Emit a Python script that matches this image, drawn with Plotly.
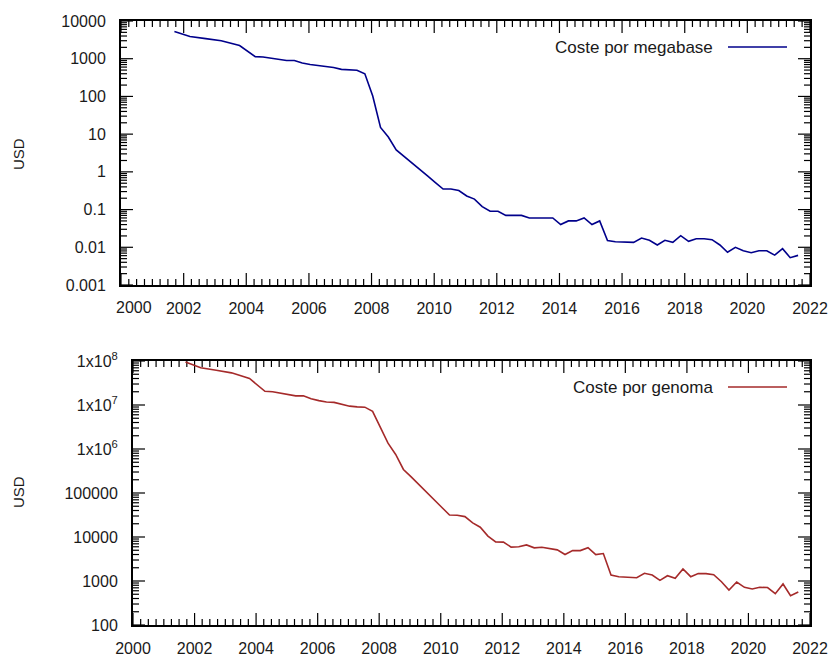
import pandas as pd
import plotly.graph_objects as go

# Sampling dates (quarterly records)
dates = [
    "2001-09-15", "2002-03-15", "2002-09-15", "2003-03-15", "2003-10-15",
    "2004-01-15", "2004-04-15", "2004-07-15", "2004-10-15",
    "2005-01-15", "2005-04-15", "2005-07-15", "2005-10-15",
    "2006-01-15", "2006-04-15", "2006-07-15", "2006-10-15",
    "2007-01-15", "2007-04-15", "2007-07-15", "2007-10-15",
    "2008-01-15", "2008-04-15", "2008-07-15", "2008-10-15",
    "2009-01-15", "2009-04-15", "2009-07-15", "2009-10-15",
    "2010-01-15", "2010-04-15", "2010-07-15", "2010-10-15",
    "2011-01-15", "2011-04-15", "2011-07-15", "2011-10-15",
    "2012-01-15", "2012-04-15", "2012-07-15", "2012-10-15",
    "2013-01-15", "2013-04-15", "2013-07-15", "2013-10-15",
    "2014-01-15", "2014-04-15", "2014-07-15", "2014-10-15",
    "2015-01-15", "2015-04-15", "2015-07-15", "2015-10-15",
    "2016-05-15", "2016-08-15", "2016-11-15",
    "2017-02-15", "2017-05-15", "2017-08-15", "2017-11-15",
    "2018-02-15", "2018-05-15", "2018-08-15", "2018-11-15",
    "2019-02-15", "2019-05-15", "2019-08-15", "2019-11-15",
    "2020-02-15", "2020-05-15", "2020-08-15", "2020-11-15",
    "2021-02-15", "2021-05-15", "2021-08-15",
]

# Cost per megabase (USD)
cost_per_mb = [
    5292.39, 3898.64, 3413.80, 2986.20, 2230.98,
    1598.91, 1135.70, 1107.46, 1028.85,
    974.16, 897.76, 898.90, 766.73,
    699.20, 651.81, 636.41, 581.92,
    522.71, 502.61, 495.96, 397.09,
    102.13, 15.03, 8.36, 3.81,
    2.59, 1.72, 1.20, 0.78,
    0.52, 0.35, 0.35, 0.32,
    0.23, 0.19, 0.12, 0.09,
    0.09, 0.07, 0.07, 0.07,
    0.06, 0.06, 0.06, 0.06,
    0.04, 0.05, 0.05, 0.06,
    0.04, 0.05, 0.015, 0.014,
    0.0135, 0.0176, 0.0153,
    0.0115, 0.0153, 0.0135, 0.0203,
    0.0144, 0.0169, 0.0169, 0.0159,
    0.0115, 0.0074, 0.0100, 0.0081,
    0.0072, 0.0081, 0.0081, 0.0062,
    0.0092, 0.0053, 0.0061,
]

# Cost per genome (USD)
cost_per_genome = [
    95263072, 70175437, 61448422, 53751684, 40157554,
    28780376, 20442576, 19934346, 18519312,
    17534970, 16159699, 16180224, 13801124,
    12585659, 11732535, 11455315, 10474556,
    9408739, 9047003, 8927342, 7147571,
    3063820, 1352982, 752080, 342502,
    232735, 154714, 108065, 70333,
    46774, 31512, 31125, 29092,
    20963, 16712, 10497, 7743,
    7666, 5901, 5985, 6618,
    5671, 5826, 5550, 5096,
    4008, 4920, 4905, 5731,
    3970, 4211, 1363, 1245,
    1190, 1496, 1368,
    1036, 1318, 1151, 1875,
    1253, 1472, 1472, 1390,
    964, 624, 949, 719,
    658, 719, 710, 514,
    855, 463, 562,
]

year_ticks = [str(y) for y in range(2000, 2023, 2)]
year_vals = [f"{y}-01-01" for y in range(2000, 2023, 2)]

mb_tickvals = [0.001, 0.01, 0.1, 1, 10, 100, 1000, 10000]
mb_ticktext = ["0.001", "0.01", "0.1", "1", "10", "100", "1000", "10000"]
gen_tickvals = [100, 1000, 10000, 100000, 1e6, 1e7, 1e8]
gen_ticktext = ["100", "1000", "10000", "100000",
                "1x10<sup>6</sup>", "1x10<sup>7</sup>", "1x10<sup>8</sup>"]

W, H = 829, 656
BLUE = "#00008b"
RED = "#a52a2a"
FONT = "Liberation Sans, Arial, sans-serif"
TXT = "#1a1a1a"
MAJOR_LEN, MINOR_LEN = 12, 6
X_START, X_END = "2000-01-01", "2022-01-01"

# panel frames in pixels (left, right, top, bottom)
TOP_BOX = (121, 810, 21, 285)
BOT_BOX = (133, 810, 361, 625)


def px(x):
    return x / W


def py(y):
    return 1 - y / H


# minor tick positions: quarters on the time axis, 2..9 per decade on log axes
quarter_vals = [f"{y}-{m:02d}-01" for y in range(2000, 2022) for m in (1, 4, 7, 10)
                if not (m == 1 and y % 2 == 0)]


def log_minors(lo, hi):
    return [k * 10.0 ** d for d in range(lo, hi) for k in range(2, 10)]


def fmt(ts):
    return ts.strftime("%Y-%m-%d %H:%M")


def frame_ticks(box, ylog_range, ymajor, yminor):
    """Inward tick marks on all four sides of a panel, in axis units."""
    left, right, top, bottom = box
    t0, t1 = pd.Timestamp(X_START), pd.Timestamp(X_END)
    days_per_px = (t1 - t0).days / (right - left)
    dec_per_px = (ylog_range[1] - ylog_range[0]) / (bottom - top)
    y_lo, y_hi = 10.0 ** ylog_range[0], 10.0 ** ylog_range[1]
    xs, ys = [], []
    for vals, length in ((year_vals, MAJOR_LEN), (quarter_vals, MINOR_LEN)):
        f = 10.0 ** (dec_per_px * length)
        for v in vals:
            xs += [v, v, None, v, v, None]
            ys += [y_lo, y_lo * f, None, y_hi, y_hi / f, None]
    for vals, length in ((ymajor, MAJOR_LEN), (yminor, MINOR_LEN)):
        dt = pd.Timedelta(days=days_per_px * length)
        for v in vals:
            xs += [fmt(t0), fmt(t0 + dt), None, fmt(t1), fmt(t1 - dt), None]
            ys += [v, v, None, v, v, None]
    return xs, ys


fig = go.Figure()

tx, ty = frame_ticks(TOP_BOX, (-3, 4), mb_tickvals, log_minors(-3, 4))
fig.add_trace(go.Scatter(x=tx, y=ty, mode="lines", line=dict(color="black", width=1.2),
                         xaxis="x", yaxis="y", showlegend=False, hoverinfo="skip",
                         connectgaps=False))
bx, by = frame_ticks(BOT_BOX, (2, 8), gen_tickvals, log_minors(2, 8))
fig.add_trace(go.Scatter(x=bx, y=by, mode="lines", line=dict(color="black", width=1.2),
                         xaxis="x2", yaxis="y2", showlegend=False, hoverinfo="skip",
                         connectgaps=False))

fig.add_trace(go.Scatter(x=dates, y=cost_per_mb, mode="lines",
                         line=dict(color=BLUE, width=1.6),
                         xaxis="x", yaxis="y", showlegend=False,
                         name="Coste por megabase"))
fig.add_trace(go.Scatter(x=dates, y=cost_per_genome, mode="lines",
                         line=dict(color=RED, width=1.6),
                         xaxis="x2", yaxis="y2", showlegend=False,
                         name="Coste por genoma"))

common_x = dict(
    type="date", range=[X_START, X_END], autorange=False,
    tickmode="array", tickvals=year_vals, ticks="",
    showline=True, linewidth=2, linecolor="black", mirror=True,
    showgrid=False, zeroline=False,
    tickfont=dict(family=FONT, size=16, color=TXT),
    ticklabelstandoff=8,
)
common_y = dict(
    type="log", tickmode="array", ticks="", autorange=False,
    showline=True, linewidth=2, linecolor="black", mirror=True,
    showgrid=False, zeroline=False,
    tickfont=dict(family=FONT, size=16, color=TXT),
    ticklabelstandoff=10,
)

top_text = [""] + year_ticks[1:]

fig.update_layout(
    width=W, height=H,
    margin=dict(l=0, r=0, t=0, b=0, autoexpand=False),
    paper_bgcolor="white", plot_bgcolor="white",
    xaxis=dict(common_x, domain=[px(TOP_BOX[0]), px(TOP_BOX[1])], anchor="y",
               ticktext=top_text),
    yaxis=dict(common_y, domain=[py(TOP_BOX[3]), py(TOP_BOX[2])], anchor="x",
               range=[-3, 4], tickvals=mb_tickvals, ticktext=mb_ticktext),
    xaxis2=dict(common_x, domain=[px(BOT_BOX[0]), px(BOT_BOX[1])], anchor="y2",
                ticktext=year_ticks),
    yaxis2=dict(common_y, domain=[py(BOT_BOX[3]), py(BOT_BOX[2])], anchor="x2",
                range=[2, 8], tickvals=gen_tickvals, ticktext=gen_ticktext),
    annotations=[
        dict(text="2000", x=X_START, xref="x", y=py(307), yref="paper",
             xanchor="center", yanchor="middle", xshift=13, showarrow=False,
             font=dict(family=FONT, size=16, color=TXT)),
        dict(text="USD", x=px(18), y=py(154), xref="paper", yref="paper",
             textangle=-90, showarrow=False, xanchor="center", yanchor="middle",
             font=dict(family=FONT, size=15, color=TXT)),
        dict(text="USD", x=px(18), y=py(492), xref="paper", yref="paper",
             textangle=-90, showarrow=False, xanchor="center", yanchor="middle",
             font=dict(family=FONT, size=15, color=TXT)),
        dict(text="Coste por megabase", x=px(715), y=py(47), xref="paper", yref="paper",
             xanchor="right", yanchor="middle", showarrow=False,
             font=dict(family=FONT, size=17, color=TXT)),
        dict(text="Coste por genoma", x=px(715), y=py(387), xref="paper", yref="paper",
             xanchor="right", yanchor="middle", showarrow=False,
             font=dict(family=FONT, size=17, color=TXT)),
    ],
    shapes=[
        dict(type="line", xref="paper", yref="paper",
             x0=px(728), x1=px(787), y0=py(47), y1=py(47),
             line=dict(color=BLUE, width=1.6)),
        dict(type="line", xref="paper", yref="paper",
             x0=px(728), x1=px(787), y0=py(387), y1=py(387),
             line=dict(color=RED, width=1.6)),
    ],
)

fig.write_html("out.html")
